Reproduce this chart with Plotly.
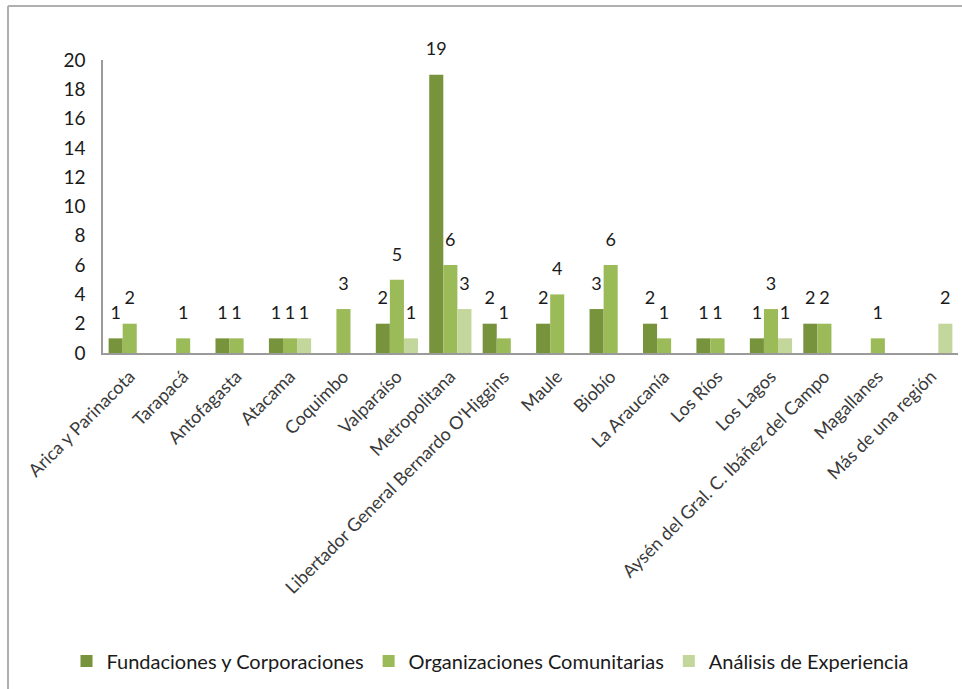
import plotly.graph_objects as go

categories = [
    "Arica y Parinacota", "Tarapacá", "Antofagasta", "Atacama", "Coquimbo",
    "Valparaíso", "Metropolitana", "Libertador General Bernardo O'Higgins",
    "Maule", "Biobío", "La Araucanía", "Los Ríos", "Los Lagos",
    "Aysén del Gral. C. Ibáñez del Campo", "Magallanes", "Más de una región",
]
fundaciones = [1, 0, 1, 1, 0, 2, 19, 2, 2, 3, 2, 1, 1, 2, 0, 0]
organizaciones = [2, 1, 1, 1, 3, 5, 6, 1, 4, 6, 1, 1, 3, 2, 1, 0]
analisis = [0, 0, 0, 1, 0, 1, 3, 0, 0, 0, 0, 0, 1, 0, 0, 2]
y_ticks = [0, 2, 4, 6, 8, 10, 12, 14, 16, 18, 20]

series = [
    ("Fundaciones y Corporaciones", fundaciones, "#77933C"),
    ("Organizaciones Comunitarias", organizaciones, "#9BBB59"),
    ("Análisis de Experiencia", analisis, "#C3D69B"),
]

FONT = "Lato"
GAP = 0.21
fig = go.Figure()
for i, (name, vals, color) in enumerate(series):
    fig.add_trace(go.Bar(
        name=name, x=categories, y=vals,
        marker=dict(color=color, line=dict(width=0)),
        offsetgroup=str(i), hoverinfo="x+y+name",
    ))
for i, (name, vals, color) in enumerate(series):
    fig.add_trace(go.Scatter(
        x=categories, y=vals, mode="markers+text",
        offsetgroup=str(i),
        marker=dict(size=22, opacity=0, color=color),
        text=[str(v) if v else "" for v in vals],
        textposition="top center",
        textfont=dict(family=FONT, size=18, color="#1a1a1a"),
        showlegend=False, hoverinfo="skip", cliponaxis=False,
    ))

W, H = 962, 689
L, R, T, B = 103, 4, 60, 336
pw, ph = W - L - R, H - T - B

def px(x):
    return (x - L) / pw

def py(y):
    return (H - B - y) / ph

fig.update_layout(
    width=W, height=H,
    margin=dict(l=L, r=R, t=T, b=B),
    barmode="group", bargap=GAP, bargroupgap=0,
    scattermode="group", scattergap=GAP,
    plot_bgcolor="white", paper_bgcolor="white",
    font=dict(family=FONT, color="#1a1a1a"),
    showlegend=True,
    legend=dict(
        orientation="h", x=px(490), xanchor="center", y=py(661), yanchor="middle",
        font=dict(family=FONT, size=20, color="#1a1a1a"),
        itemwidth=30, traceorder="normal",
    ),
    xaxis=dict(
        tickangle=-45, showgrid=False, showline=True, linecolor="#9a9a9a", linewidth=2,
        ticks="", tickfont=dict(family=FONT, size=18, color="#3a3a3a"),
        ticklabelstandoff=4,
        range=[-0.5, 15.5],
    ),
    yaxis=dict(
        range=[0, 20], tickvals=y_ticks, showgrid=False, showline=True,
        linecolor="#9a9a9a", linewidth=1.5, ticks="", zeroline=False,
        ticklabelstandoff=12,
        tickfont=dict(family=FONT, size=19, color="#1a1a1a"),
    ),
    shapes=[
        dict(type="line", xref="paper", yref="paper", x0=px(8), x1=px(962), y0=py(6), y1=py(6),
             line=dict(color="#b0b0b0", width=2)),
        dict(type="line", xref="paper", yref="paper", x0=px(8), x1=px(8), y0=py(6), y1=py(689),
             line=dict(color="#b0b0b0", width=2)),
    ],
)

fig.write_html("out.html", config={"displayModeBar": False},
               post_script="document.body.style.margin='0';document.body.style.overflow='hidden';")
